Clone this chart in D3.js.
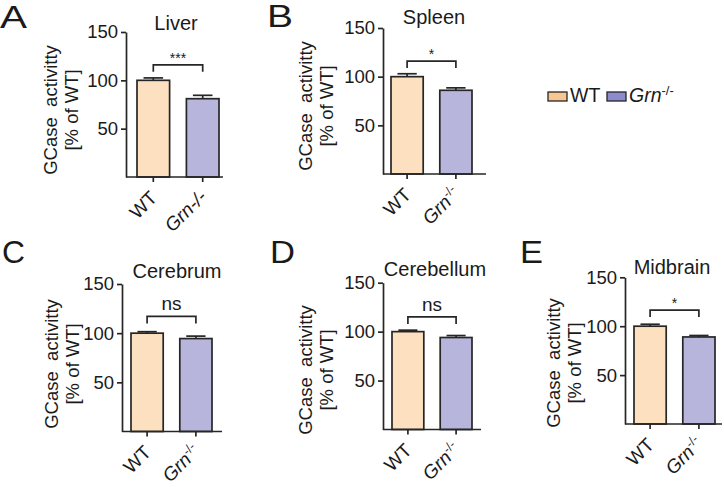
<!DOCTYPE html>
<html>
<head>
<meta charset="utf-8">
<script src="https://cdn.jsdelivr.net/npm/d3@7"></script>
<style>
  body { margin: 0; background: #fff; }
  svg text { font-family: "Liberation Sans", Arial, sans-serif; fill: #1a1a1a; }
</style>
</head>
<body>
<svg id="chart" width="724" height="487"></svg>
<script>
// data
const panelLetters = ["A", "B", "C", "D", "E"];
const tissues = ["Liver", "Spleen", "Cerebrum", "Cerebellum", "Midbrain"];
const groups = ["WT", "Grn-/-"];
const wtMean = [100, 100, 100, 100, 100];
const wtErr = [2.5, 3, 1.5, 1.5, 2];
const grnMean = [81, 86, 94.5, 94, 89];
const grnErr = [3.5, 2.5, 2.5, 2, 1.5];
const sigLabels = ["***", "*", "ns", "ns", "*"];
const bracketAt = [116, 116, 117, 115, 116.5];
const yTicks = [50, 100, 150];
const yMax = 150;

const fills = ["#fde0bf", "#b8b5dc"];
const legendFills = ["#f8c690", "#8d8bcb"];
const ink = "#262626";
const sw = 1.7;

// where each panel sits on the page
const layout = [
    {x0: 126, base: 177, top: 32, len: 97, padL: 11, padR: 4, labX: 57, labY: 110, letter: [0, 28, 27], title: [176, 30]},
    {x0: 383, base: 174, top: 28, len: 103, padL: 8, padR: 14, labX: 312, labY: 106, letter: [267, 27, 26], title: [434, 24]},
    {x0: 122, base: 431.5, top: 284, len: 100, padL: 9, padR: 10, labX: 58, labY: 364, letter: [2, 263, 23], title: [177, 278]},
    {x0: 383, base: 429.5, top: 282.7, len: 98, padL: 9, padR: 9, labX: 312, labY: 370, letter: [270, 263, 25], title: [435, 276]},
    {x0: 625, base: 424, top: 277.3, len: 97, padL: 9, padR: 7, labX: 560, labY: 363, letter: [520, 263, 23], title: [672, 274]}
];

const svg = d3.select("#chart");

panelLetters.forEach((letter, i) => {
    const L = layout[i];
    const g = svg.append("g").attr("class", "panel");
    const vals = [wtMean[i], grnMean[i]];
    const errs = [wtErr[i], grnErr[i]];

    const y = d3.scaleLinear().domain([0, yMax]).range([L.base, L.top]);
    const x = d3.scaleBand()
        .domain(groups)
        .range([L.x0 + L.padL, L.x0 + L.len - L.padR])
        .paddingInner(0.34);

    // bars
    g.selectAll("rect.bar")
        .data(groups)
        .enter().append("rect")
        .attr("class", "bar")
        .attr("x", d => x(d))
        .attr("y", (d, j) => y(vals[j]))
        .attr("width", x.bandwidth())
        .attr("height", (d, j) => y(0) - y(vals[j]))
        .attr("fill", (d, j) => fills[j])
        .attr("stroke", ink)
        .attr("stroke-width", sw);

    // upper error bars
    groups.forEach((grp, j) => {
        const cx = x(grp) + x.bandwidth() / 2;
        const capW = x.bandwidth() * 0.3;
        g.append("line")
            .attr("x1", cx).attr("x2", cx)
            .attr("y1", y(vals[j])).attr("y2", y(vals[j] + errs[j]))
            .attr("stroke", ink).attr("stroke-width", sw);
        g.append("line")
            .attr("x1", cx - capW).attr("x2", cx + capW)
            .attr("y1", y(vals[j] + errs[j])).attr("y2", y(vals[j] + errs[j]))
            .attr("stroke", ink).attr("stroke-width", sw);
    });

    // y axis
    const yAxis = g.append("g")
        .attr("transform", "translate(" + L.x0 + ",0)")
        .call(d3.axisLeft(y).tickValues(yTicks).tickSize(5).tickPadding(3).tickSizeOuter(0));
    yAxis.select(".domain").attr("stroke", ink).attr("stroke-width", sw);
    yAxis.selectAll(".tick line").attr("stroke", ink).attr("stroke-width", sw);
    yAxis.selectAll(".tick text").attr("font-size", 18.5).attr("fill", "#1a1a1a")
        .attr("font-family", "Liberation Sans, Arial, sans-serif");

    // x axis
    const xLine = d3.scaleLinear().domain([0, 1]).range([L.x0, L.x0 + L.len]);
    g.append("line")
        .attr("x1", xLine(0)).attr("x2", xLine(1))
        .attr("y1", y(0)).attr("y2", y(0))
        .attr("stroke", ink).attr("stroke-width", sw);
    groups.forEach((grp, j) => {
        const cx = x(grp) + x.bandwidth() / 2;
        g.append("line")
            .attr("x1", cx).attr("x2", cx)
            .attr("y1", y(0)).attr("y2", y(0) + 5)
            .attr("stroke", ink).attr("stroke-width", sw);
        const t = g.append("text")
            .attr("transform", "translate(" + (cx + 5) + "," + (y(0) + (j === 0 ? 22 : 21)) + ") rotate(-45)")
            .attr("text-anchor", "end")
            .attr("font-size", 19);
        if (j === 0) {
            t.text(grp);
        } else if (i === 0) {
            t.append("tspan").attr("font-style", "italic").text("Grn-/-");
        } else {
            t.append("tspan").attr("font-style", "italic").text("Grn");
            t.append("tspan").attr("font-size", 12.5).attr("dy", -7).text("-/-");
        }
    });

    // y label (two lines)
    const yl = g.append("text")
        .attr("transform", "translate(" + L.labX + "," + L.labY + ") rotate(-90)")
        .attr("text-anchor", "middle")
        .attr("font-size", 18.5);
    yl.append("tspan").attr("x", 0).attr("y", 0).text("GCase\u00a0\u00a0activitty");
    yl.append("tspan").attr("x", 0).attr("y", 21).text("[% of WT]");

    // title and panel letter
    g.append("text")
        .attr("x", L.title[0]).attr("y", L.title[1])
        .attr("text-anchor", "middle")
        .attr("font-size", 20)
        .text(tissues[i]);
    g.append("text")
        .attr("x", L.letter[0]).attr("y", L.letter[1])
        .attr("font-size", 31)
        .attr("textLength", L.letter[2])
        .attr("lengthAdjust", "spacingAndGlyphs")
        .text(letter);

    // significance bracket
    const bx1 = x(groups[0]) + x.bandwidth() / 2;
    const bx2 = x(groups[1]) + x.bandwidth() / 2;
    const by = y(bracketAt[i]);
    g.append("path")
        .attr("d", "M" + bx1 + "," + (by + 7) + "V" + by + "H" + bx2 + "V" + (by + 7))
        .attr("fill", "none").attr("stroke", ink).attr("stroke-width", sw);
    const ns = sigLabels[i] === "ns";
    g.append("text")
        .attr("x", (bx1 + bx2) / 2)
        .attr("y", ns ? by - 6 : by - 2)
        .attr("text-anchor", "middle")
        .attr("font-size", ns ? 19 : 14)
        .text(sigLabels[i]);
});

// legend
const legend = svg.append("g").attr("transform", "translate(548,92)");
const legendX = [0, 59];
groups.forEach((grp, j) => {
    const lg = legend.append("g").attr("transform", "translate(" + legendX[j] + ",0)");
    lg.append("rect")
        .attr("width", 19).attr("height", 9)
        .attr("fill", legendFills[j]).attr("stroke", ink).attr("stroke-width", 1.3);
    const t = lg.append("text").attr("x", 22).attr("y", 9.5).attr("font-size", 19.5);
    if (j === 0) {
        t.text(grp);
    } else {
        t.append("tspan").attr("font-style", "italic").text("Grn");
        t.append("tspan").attr("font-size", 13).attr("dy", -7).text("-/-");
    }
});
</script>
</body>
</html>
